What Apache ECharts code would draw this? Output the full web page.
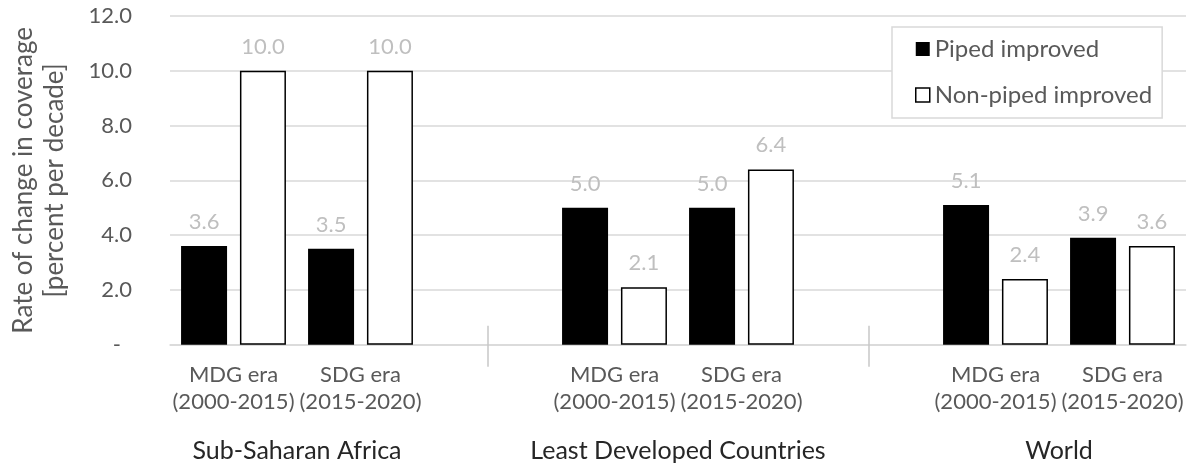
<!DOCTYPE html>
<html>
<head>
<meta charset="utf-8">
<script src="https://cdn.jsdelivr.net/npm/echarts@6/dist/echarts.min.js"></script>
<style>
  html, body { margin: 0; padding: 0; background: #fff; }
  #chart { width: 1189px; height: 468px; }
</style>
</head>
<body>
<div id="chart"></div>
<script>
// Era labels per category slot; empty slots are spacers between regions.
const categories = [
  'MDG era\n(2000-2015)', 'SDG era\n(2015-2020)', '',
  'MDG era\n(2000-2015)', 'SDG era\n(2015-2020)', '',
  'MDG era\n(2000-2015)', 'SDG era\n(2015-2020)'
];
// Region each slot belongs to (null = spacer).
const slotRegion = [0, 0, null, 1, 1, null, 2, 2];
const regions = ['Sub-Saharan Africa', 'Least Developed Countries', 'World'];

// Rate of change in coverage, percent per decade.
const piped    = [3.6, 3.5, null, 5.0, 5.0, null, 5.1, 3.9];
const nonPiped = [10.0, 10.0, null, 2.1, 6.4, null, 2.4, 3.6];

const yTicks = { min: 0, max: 12, interval: 2 };
const FONT = 'Lato, "Open Sans", sans-serif';

// Region labels sit on a half-slot point axis, centred over each region's slots.
const regionPoints = new Array(categories.length * 2 + 1).fill('');
regions.forEach((name, r) => {
  const idx = slotRegion.map((g, i) => (g === r ? i : -1)).filter(i => i >= 0);
  const first = idx[0], last = idx[idx.length - 1];
  regionPoints[first + last + 1] = name;
});

const isSpacer = (i, v) => v === '';

const chart = echarts.init(document.getElementById('chart'), null, { renderer: 'canvas' });
chart.setOption({
  backgroundColor: '#ffffff',
  animation: false,
  textStyle: { fontFamily: FONT },
  grid: { left: 164, right: -3, top: 16, bottom: 123.3, containLabel: false },
  legend: {
    orient: 'vertical',
    left: 892, top: 27,
    padding: [10, 10, 11, 23],
    backgroundColor: '#ffffff',
    borderColor: '#d9d9d9', borderWidth: 1.5,
    itemWidth: 14, itemHeight: 14, itemGap: 22,
    icon: 'rect',
    textStyle: { color: '#595959', fontSize: 24, fontFamily: FONT },
    data: [
      { name: 'Piped improved', itemStyle: { color: '#000000' } },
      { name: 'Non-piped improved', itemStyle: { color: '#ffffff', borderColor: '#000000', borderWidth: 1.5 } }
    ]
  },
  xAxis: [
    {
      type: 'category',
      data: categories,
      axisLine: { show: true, onZero: false, lineStyle: { color: '#d9d9d9', width: 1.5 } },
      axisTick: { show: true, alignWithLabel: true, interval: isSpacer, length: 22,
                  lineStyle: { color: '#c8c8c8', width: 1.5 } },
      axisLabel: { interval: 0, color: '#595959', fontSize: 22, lineHeight: 27, margin: 17, fontFamily: FONT }
    },
    {
      // upper half of the region separators
      type: 'category',
      data: categories,
      position: 'bottom',
      axisLine: { show: false, onZero: false },
      axisTick: { show: true, inside: true, alignWithLabel: true, interval: isSpacer, length: 19,
                  lineStyle: { color: '#c8c8c8', width: 1.5 } },
      axisLabel: { show: false }
    },
    {
      type: 'category',
      data: regionPoints,
      position: 'bottom',
      boundaryGap: false,
      axisLine: { show: false, onZero: false },
      axisTick: { show: false },
      axisLabel: { interval: 0, color: '#262626', fontSize: 25, margin: 94, fontFamily: FONT }
    }
  ],
  yAxis: {
    type: 'value',
    min: yTicks.min, max: yTicks.max, interval: yTicks.interval,
    name: 'Rate of change in coverage\n[percent per decade]',
    nameLocation: 'middle',
    nameGap: 100,
    nameTextStyle: { color: '#595959', fontSize: 26, lineHeight: 31, fontFamily: FONT },
    axisLine: { show: false },
    axisTick: { show: false },
    splitLine: { lineStyle: { color: '#d9d9d9', width: 1.5 } },
    axisLabel: {
      color: '#595959', fontSize: 22, margin: 38, fontFamily: FONT,
      formatter: v => (v === 0 ? '{d|-}' : v.toFixed(1)),
      rich: { d: { color: '#595959', fontSize: 22, padding: [0, 11, 0, 0], fontFamily: FONT } }
    }
  },
  series: [
    {
      name: 'Piped improved',
      type: 'bar',
      xAxisIndex: 0,
      data: piped,
      barWidth: 46,
      barGap: '28%',
      itemStyle: { color: '#000000' },
      label: { show: true, position: 'top', distance: 13, color: '#bfbfbf', fontSize: 22, fontFamily: FONT,
               formatter: p => p.value.toFixed(1) }
    },
    {
      name: 'Non-piped improved',
      type: 'bar',
      xAxisIndex: 0,
      data: nonPiped,
      barWidth: 46,
      barGap: '28%',
      itemStyle: { color: '#ffffff', borderColor: '#000000', borderWidth: 1.5 },
      label: { show: true, position: 'top', distance: 13, color: '#bfbfbf', fontSize: 22, fontFamily: FONT,
               formatter: p => p.value.toFixed(1) }
    }
  ]
});
</script>
</body>
</html>
